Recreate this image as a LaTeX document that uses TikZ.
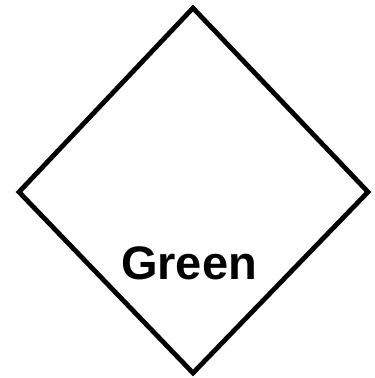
\documentclass[tikz,border=0pt]{standalone}
\usepackage{fontspec}
\setmainfont{Liberation Sans}

\begin{document}
\begin{tikzpicture}[x=1pt, y=1pt, every node/.style={font=\fontsize{47}{47}\selectfont\bfseries}]
	\useasboundingbox (0,0) rectangle (375,378);
	\coordinate (top) at (193,370);
	\coordinate (right) at (368,186);
	\coordinate (bottom) at (193,5);
	\coordinate (left) at (19,186);
	\draw[line width=4.8pt] (top) -- (right) -- (bottom) -- (left) -- cycle;
	\node[anchor=base, inner sep=0pt] (label) at (189,98) {Green};
\end{tikzpicture}
\end{document}
